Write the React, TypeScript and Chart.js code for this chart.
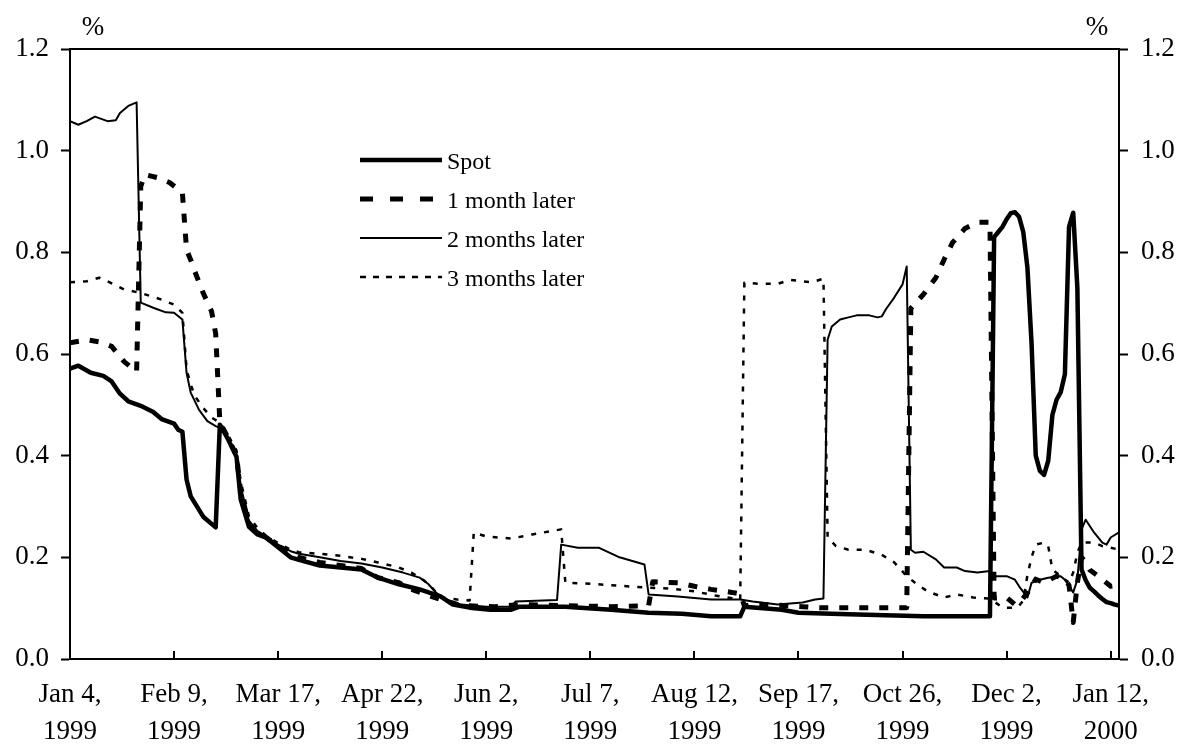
import React, { useEffect, useRef } from "react";
import { Chart, registerables } from "chart.js";

Chart.register(...registerables);

const SERIF = '"Liberation Serif", "Times New Roman", Times, serif';

// business-day index (0 = Jan 4, 1999) of each labelled tick
const tickDays = [0, 25, 50, 75, 100, 125, 150, 175, 200, 225, 250];
const tickDates = ["Jan 4,", "Feb 9,", "Mar 17,", "Apr 22,", "Jun 2,", "Jul 7,", "Aug 12,", "Sep 17,", "Oct 26,", "Dec 2,", "Jan 12,"];
const tickYears = ["1999", "1999", "1999", "1999", "1999", "1999", "1999", "1999", "1999", "1999", "2000"];
const lastDay = 252;
const yMin = 0;
const yMax = 1.2;
const yStep = 0.2;
const unitLabel = "%";

const seriesNames = ["Spot", "1 month later", "2 months later", "3 months later"];

// [business-day index, rate %]
const spot: [number, number][] = [
  [0, 0.571], [2, 0.577], [5, 0.563], [8, 0.557], [10, 0.546], [12, 0.522], [14, 0.507], [17, 0.498],
  [20, 0.486], [22, 0.472], [25, 0.463], [26, 0.451], [27, 0.447], [28, 0.353], [29, 0.320], [32, 0.280],
  [35, 0.259], [36, 0.461], [38, 0.432], [40, 0.398], [41, 0.314], [43, 0.260], [45, 0.245], [47, 0.239],
  [50, 0.220], [53, 0.200], [55, 0.195], [60, 0.184], [65, 0.180], [70, 0.176], [74, 0.160], [79, 0.147],
  [84, 0.137], [89, 0.123], [92, 0.107], [96, 0.101], [101, 0.097], [106, 0.097], [108, 0.103], [119, 0.103],
  [130, 0.097], [139, 0.091], [147, 0.089], [154, 0.084], [161, 0.084], [162, 0.103], [171, 0.097], [175, 0.091],
  [187, 0.088], [205, 0.084], [221, 0.084], [222, 0.830], [223, 0.840], [224, 0.850], [225, 0.865], [226, 0.877],
  [227, 0.879], [228, 0.870], [229, 0.840], [230, 0.770], [231, 0.620], [232, 0.400], [233, 0.370], [234, 0.362],
  [235, 0.390], [236, 0.480], [237, 0.510], [238, 0.525], [239, 0.560], [240, 0.850], [241, 0.878], [242, 0.730],
  [243, 0.176], [244, 0.155], [245, 0.140], [246, 0.133], [247, 0.125], [248, 0.118], [249, 0.112], [250, 0.110],
  [251, 0.107], [252, 0.105],
];

const oneMonth: [number, number][] = [
  [0, 0.622], [4, 0.628], [7, 0.624], [10, 0.615], [13, 0.585], [16, 0.565], [17, 0.930], [18, 0.953],
  [21, 0.947], [24, 0.937], [27, 0.917], [28, 0.805], [29, 0.785], [30, 0.762], [32, 0.720], [34, 0.684],
  [35, 0.640], [36, 0.465], [38, 0.435], [40, 0.400], [41, 0.330], [43, 0.265], [45, 0.248], [47, 0.240],
  [50, 0.222], [55, 0.200], [60, 0.190], [65, 0.184], [70, 0.178], [74, 0.160], [79, 0.150], [82, 0.137],
  [89, 0.117], [94, 0.105], [102, 0.103], [108, 0.107], [119, 0.105], [130, 0.103], [139, 0.105], [140, 0.152],
  [146, 0.150], [150, 0.143], [154, 0.137], [159, 0.131], [161, 0.128], [162, 0.105], [165, 0.108], [176, 0.103],
  [180, 0.101], [188, 0.101], [201, 0.101], [202, 0.690], [205, 0.717], [208, 0.750], [210, 0.786], [212, 0.819],
  [215, 0.847], [218, 0.859], [221, 0.859], [222, 0.120], [225, 0.121], [227, 0.107], [228, 0.110], [230, 0.130],
  [232, 0.157], [234, 0.150], [237, 0.163], [239, 0.157], [240, 0.145], [241, 0.072], [242, 0.150], [243, 0.200],
  [244, 0.190], [245, 0.175], [247, 0.163], [250, 0.143], [252, 0.145],
];

const twoMonths: [number, number][] = [
  [0, 1.058], [2, 1.051], [4, 1.058], [6, 1.067], [9, 1.058], [11, 1.060], [12, 1.074], [14, 1.088],
  [16, 1.095], [17, 0.701], [20, 0.691], [23, 0.682], [25, 0.681], [27, 0.668], [28, 0.563], [29, 0.524],
  [31, 0.490], [33, 0.468], [35, 0.458], [36, 0.455], [38, 0.435], [40, 0.400], [41, 0.340], [43, 0.272],
  [45, 0.252], [47, 0.242], [50, 0.225], [53, 0.212], [55, 0.207], [60, 0.200], [65, 0.193], [70, 0.188],
  [75, 0.180], [80, 0.170], [84, 0.160], [86, 0.148], [88, 0.130], [90, 0.118], [94, 0.107], [100, 0.103],
  [106, 0.103], [107, 0.113], [117, 0.116], [118, 0.225], [122, 0.219], [127, 0.219], [132, 0.200], [138, 0.186],
  [139, 0.127], [146, 0.123], [154, 0.117], [161, 0.117], [164, 0.113], [170, 0.107], [176, 0.111], [179, 0.117],
  [181, 0.119], [182, 0.628], [183, 0.654], [185, 0.668], [187, 0.672], [189, 0.676], [192, 0.676], [194, 0.672],
  [195, 0.674], [196, 0.688], [198, 0.711], [200, 0.737], [201, 0.772], [202, 0.215], [203, 0.209], [205, 0.211],
  [208, 0.196], [210, 0.180], [213, 0.180], [215, 0.173], [218, 0.170], [221, 0.173], [222, 0.163], [225, 0.163],
  [227, 0.156], [228, 0.143], [230, 0.121], [231, 0.150], [233, 0.156], [235, 0.160], [238, 0.163], [239, 0.156],
  [241, 0.131], [242, 0.156], [243, 0.255], [244, 0.274], [246, 0.249], [248, 0.229], [249, 0.225], [250, 0.239],
  [252, 0.249],
];

const threeMonths: [number, number][] = [
  [0, 0.741], [4, 0.743], [7, 0.750], [9, 0.743], [13, 0.727], [17, 0.720], [22, 0.707], [25, 0.697],
  [27, 0.681], [28, 0.570], [29, 0.540], [30, 0.517], [32, 0.494], [34, 0.475], [36, 0.465], [38, 0.440],
  [40, 0.410], [41, 0.350], [43, 0.280], [45, 0.258], [47, 0.243], [50, 0.228], [53, 0.215], [55, 0.210],
  [60, 0.207], [65, 0.203], [70, 0.197], [74, 0.190], [79, 0.180], [82, 0.170], [85, 0.155], [87, 0.140],
  [89, 0.121], [93, 0.117], [96, 0.115], [97, 0.249], [100, 0.241], [106, 0.237], [111, 0.245], [118, 0.255],
  [119, 0.150], [125, 0.148], [130, 0.145], [138, 0.141], [145, 0.138], [150, 0.133], [155, 0.125], [161, 0.117],
  [162, 0.740], [166, 0.738], [170, 0.738], [173, 0.746], [176, 0.743], [178, 0.741], [181, 0.748], [182, 0.239],
  [184, 0.222], [187, 0.215], [191, 0.215], [195, 0.205], [198, 0.190], [201, 0.163], [203, 0.150], [206, 0.133],
  [210, 0.121], [213, 0.127], [217, 0.121], [221, 0.119], [224, 0.101], [227, 0.101], [228, 0.105], [229, 0.115],
  [230, 0.165], [231, 0.200], [232, 0.225], [234, 0.229], [235, 0.222], [236, 0.176], [238, 0.163], [240, 0.150],
  [241, 0.170], [242, 0.209], [243, 0.229], [246, 0.229], [248, 0.222], [250, 0.219], [252, 0.215],
];

const seriesData = [spot, oneMonth, twoMonths, threeMonths];
const seriesWidths = [4.5, 5, 2, 2.5];
const seriesDash = [[], [9, 11], [], [5, 8]];
const legendDash = [[], [13, 17], [], [6, 7]];

export default function App() {
  const ref = useRef<HTMLCanvasElement>(null);

  useEffect(() => {
    if (!ref.current) return;

    const overlay = {
      id: "overlay",
      afterDraw(chart: any) {
        const { ctx, chartArea: a, scales } = chart;
        ctx.save();
        ctx.strokeStyle = "#000";
        ctx.fillStyle = "#000";
        ctx.lineWidth = 2;
        // top frame line
        ctx.beginPath();
        ctx.moveTo(a.left - 1, a.top);
        ctx.lineTo(a.right + 1, a.top);
        ctx.stroke();
        // inward tick marks on the x axis
        for (const d of tickDays) {
          const px = Math.round(scales.x.getPixelForValue(d));
          ctx.beginPath();
          ctx.moveTo(px, a.bottom);
          ctx.lineTo(px, a.bottom - 8);
          ctx.stroke();
        }
        // unit labels
        ctx.font = `27px ${SERIF}`;
        ctx.textAlign = "center";
        ctx.textBaseline = "alphabetic";
        ctx.fillText(unitLabel, a.left + 23, 35);
        ctx.fillText(unitLabel, a.right - 22, 35);
        // legend
        const rows = [160, 199, 238, 277];
        const x0 = 360;
        const x1 = 442;
        chart.data.datasets.forEach((ds: any, i: number) => {
          const y = rows[i];
          ctx.save();
          ctx.lineWidth = ds.borderWidth;
          ctx.setLineDash(legendDash[i]);
          ctx.lineCap = "butt";
          ctx.beginPath();
          ctx.moveTo(x0, y);
          ctx.lineTo(x1, y);
          ctx.stroke();
          ctx.restore();
          ctx.font = `24px ${SERIF}`;
          ctx.textAlign = "left";
          ctx.textBaseline = "alphabetic";
          ctx.fillText(ds.label, 447, y + 9);
        });
        ctx.restore();
      },
    };

    const tickFont = { family: SERIF, size: 27 };

    const chart = new Chart(ref.current, {
      type: "line",
      data: {
        datasets: seriesData.map((arr, i) => ({
          label: seriesNames[i],
          data: arr.map(([x, y]) => ({ x, y })),
          borderColor: "#000",
          backgroundColor: "#000",
          borderWidth: seriesWidths[i],
          borderDash: seriesDash[i],
          borderJoinStyle: "round",
          borderCapStyle: "butt",
          pointRadius: 0,
          tension: 0,
          fill: false,
          yAxisID: "y",
        })),
      },
      options: {
        responsive: false,
        animation: false,
        events: [],
        layout: { padding: { top: 49, left: 0, right: 0, bottom: 0 } },
        plugins: {
          legend: { display: false },
          tooltip: { enabled: false },
        },
        scales: {
          x: {
            type: "linear",
            min: 0,
            max: lastDay,
            afterBuildTicks: (axis: any) => {
              axis.ticks = tickDays.map((v) => ({ value: v }));
            },
            afterFit: (s: any) => {
              s.height = 85;
            },
            ticks: {
              autoSkip: false,
              maxRotation: 0,
              minRotation: 0,
              padding: 17,
              color: "#000",
              font: { ...tickFont, lineHeight: 37 / 27 },
              callback: (v: any) => {
                const k = tickDays.indexOf(Number(v));
                return k >= 0 ? [tickDates[k], tickYears[k]] : "";
              },
            },
            grid: { display: false, drawTicks: false },
            border: { display: true, color: "#000", width: 2 },
          },
          y: {
            position: "left",
            min: yMin,
            max: yMax,
            afterFit: (s: any) => {
              s.width = 70;
            },
            ticks: {
              stepSize: yStep,
              padding: 12,
              color: "#000",
              font: tickFont,
              callback: (v: any) => Number(v).toFixed(1),
            },
            grid: { display: true, drawOnChartArea: false, drawTicks: true, tickLength: 9, tickWidth: 2, tickColor: "#000", color: "#000" },
            border: { display: true, color: "#000", width: 2 },
          },
          y2: {
            position: "right",
            min: yMin,
            max: yMax,
            afterFit: (s: any) => {
              s.width = 63;
            },
            ticks: {
              stepSize: yStep,
              padding: 13,
              color: "#000",
              font: tickFont,
              callback: (v: any) => Number(v).toFixed(1),
            },
            grid: { display: true, drawOnChartArea: false, drawTicks: true, tickLength: 9, tickWidth: 2, tickColor: "#000", color: "#000" },
            border: { display: true, color: "#000", width: 2 },
          },
        },
      },
      plugins: [overlay],
    } as any);

    return () => chart.destroy();
  }, []);

  return (
    <div style={{ position: "absolute", left: 0, top: 0, width: 1182, height: 744, background: "#fff" }}>
      <canvas ref={ref} width={1182} height={744} style={{ display: "block" }} />
    </div>
  );
}
